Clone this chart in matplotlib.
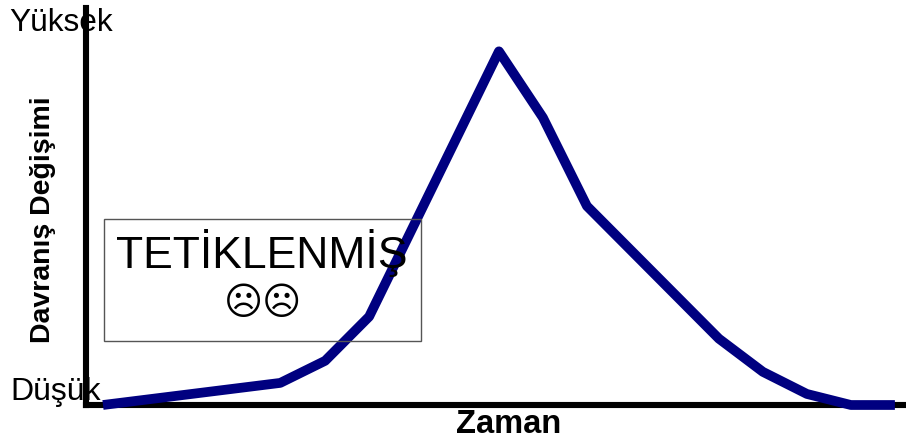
"""Behaviour change over time, triggered state."""

import matplotlib
matplotlib.use("Agg")
import matplotlib.pyplot as plt
from matplotlib.patches import Rectangle

W, H = 906, 444

time = [0, 4.03, 5.05, 6.05, 9, 10, 11, 14, 15, 16, 17, 18]
behaviour = [0, 1, 2, 4, 16, 13, 9, 3, 1.5, 0.5, 0, 0]

x_label = "Zaman"
y_label = "Davranış Değişimi"
y_high = "Yüksek"
y_low = "Düşük"
box_title = "TETİKLENMİŞ"
box_faces = "☹☹"

plt.rcParams["font.family"] = ["Liberation Sans", "DejaVu Sans"]


def fx(px):
    return px / W


def fy(py):
    return 1 - py / H


fig = plt.figure(figsize=(W / 100, H / 100), dpi=100)
ax = fig.add_axes([fx(86), fy(405), fx(905 - 86), (405 - 8) / H])
ax.set_xlim(-0.386, 18.23)
ax.set_ylim(0, 17.96)

ax.plot(time, behaviour, color="#000080", lw=7, solid_joinstyle="round",
        solid_capstyle="butt", clip_on=False, zorder=3)

for side in ["top", "right"]:
    ax.spines[side].set_visible(False)
for side in ["left", "bottom"]:
    ax.spines[side].set_linewidth(4.4)
    ax.spines[side].set_color("black")
    ax.spines[side].set_zorder(2)
ax.set_xticks([])
ax.set_yticks([])

# Box around the state label
fig.add_artist(Rectangle((fx(104), fy(341)), 317 / W, 122 / H, fill=False,
                         edgecolor="#555555", lw=1.0, zorder=1))
ax.patch.set_alpha(0)

fig.text(fx(262), fy(253), box_title, fontsize=32, ha="center", va="center",
         color="black", zorder=5)
fig.text(fx(263), fy(304), box_faces, fontsize=27, ha="center", va="center",
         color="black", family=["DejaVu Sans"], zorder=5)

fig.text(fx(9), fy(23), y_high, fontsize=22.8, ha="left", va="center", zorder=5)
fig.text(fx(10), fy(392), y_low, fontsize=23, ha="left", va="center", zorder=5)
fig.text(fx(509), fy(424), x_label, fontsize=23.5, fontweight="bold",
         ha="center", va="center", zorder=5)
fig.text(fx(43), fy(220), y_label, fontsize=20.5, fontweight="bold",
         rotation=90, ha="center", va="center", zorder=5)

plt.savefig("out.png", dpi=100)
plt.close()
